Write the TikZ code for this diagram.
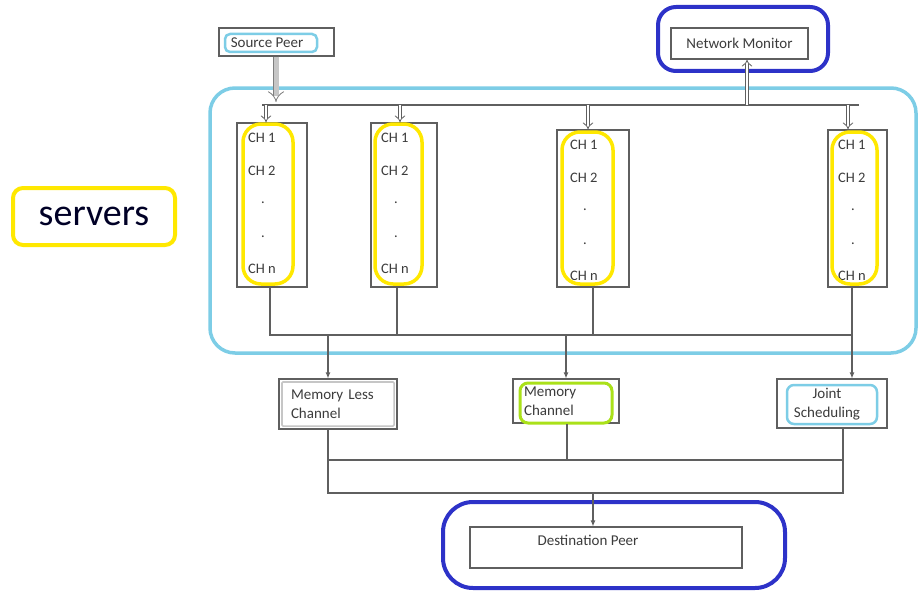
\documentclass[tikz,border=0pt]{standalone}
\usepackage{fontspec}
\setmainfont{Carlito}
\usetikzlibrary{arrows.meta,calc}
\definecolor{hlcyan}{RGB}{125,205,230}
\definecolor{hlblue}{RGB}{45,50,200}
\definecolor{hlyellow}{RGB}{255,232,0}
\definecolor{hlgreen}{RGB}{170,225,25}
\definecolor{linegray}{RGB}{95,95,95}
\definecolor{txtgray}{RGB}{60,60,60}
\begin{document}
\begin{tikzpicture}[x=1pt,y=-1pt,
  box/.style={draw=linegray, line width=1.1pt, fill=white, inner sep=0pt, text=txtgray, font=\fontsize{15}{19}\selectfont},
  plaintext/.style={inner sep=0pt, text=txtgray, font=\fontsize{15}{19}\selectfont},
  chlabel/.style={inner sep=0pt, text=txtgray, font=\fontsize{14.5}{16}\selectfont},
  conn/.style={draw=linegray, line width=1.1pt},
  arr/.style={conn, -{Latex[length=6pt,width=5pt]}},
  dbl/.style={draw=linegray, line width=0.8pt, double=white, double distance=2.8pt, -{Implies[length=5pt]}},
  srcarrow/.style={draw=linegray!80, line width=0.8pt, double=gray!45, double distance=5pt, -{Implies[length=5pt]}},
  hl/.style={line width=3.5pt, rounded corners=#1}
]
\useasboundingbox (0,0) rectangle (918,594);

% big cyan frame
\draw[hl=25, draw=hlcyan] (210,88) rectangle (916,353);

% top boxes
\node[box, minimum width=115pt, minimum height=28pt] (sp) at (276.5,42) {};
\node[plaintext] (sptext) at (267,43) {Source Peer};
\draw[hl=5, line width=2.5pt, draw=hlcyan] (225,34) rectangle (317,52);

\node[box, minimum width=137pt, minimum height=31pt] (nm) at (739.5,43.5) {Network Monitor};
\draw[hl=18, line width=4pt, draw=hlblue] (658,7) rectangle (828,71);

% servers
\node[box, minimum width=70pt, minimum height=164pt] (s1) at (272,205) {};
\node[box, minimum width=66pt, minimum height=164pt] (s2) at (404,205) {};
\node[box, minimum width=72pt, minimum height=157pt] (s3) at (593,208.5) {};
\node[box, minimum width=59pt, minimum height=157pt] (s4) at (857.5,208.5) {};

\foreach \n/\x/\d in {1/248/0, 2/381/0, 3/570/7, 4/838/7}{
  \node[chlabel, anchor=west] (s\n a) at (\x,138+\d) {CH 1};
  \node[chlabel, anchor=west] (s\n b) at (\x,171+\d) {CH 2};
  \node[chlabel] (s\n c) at (\x+15,203+\d) {.};
  \node[chlabel] (s\n d) at (\x+15,237+\d) {.};
  \node[chlabel, anchor=west] (s\n e) at (\x,269+\d) {CH n};
}
\draw[hl=18, draw=hlyellow] (243,124) rectangle (293,284);
\draw[hl=18, draw=hlyellow] (375,124) rectangle (422,284);
\draw[hl=18, draw=hlyellow] (562,132) rectangle (613,284);
\draw[hl=18, draw=hlyellow] (832,132) rectangle (877,284);

% top bus
\coordinate (bl) at (262,105);
\coordinate (br) at (859,105);
\coordinate (ts) at (276,105);
\coordinate (t1) at (266,105);
\coordinate (t2) at (400,105);
\coordinate (t3) at (588,105);
\coordinate (t4) at (848,105);
\coordinate (tn) at (747,105);
\draw[conn] (bl) -- (br);
\draw[srcarrow, shorten >=3pt] (sp.south -| ts) -- (ts);
\draw[dbl] (t1) -- (t1 |- s1.north);
\draw[dbl] (t2) -- (t2 |- s2.north);
\draw[dbl] (t3) -- (t3 |- s3.north);
\draw[dbl] (t4) -- (t4 |- s4.north);
\draw[dbl] (tn) -- (tn |- nm.south);

% bottom bus of servers
\coordinate (bb1) at (270,335);
\coordinate (bb2) at (397,335);
\coordinate (bb3) at (593,335);
\coordinate (bb4) at (852,335);
\coordinate (d1) at (328,335);
\coordinate (d2) at (566,335);
\draw[conn] (bb1 |- s1.south) -- (bb1) -- (bb4);
\draw[conn] (bb2 |- s2.south) -- (bb2);
\draw[conn] (bb3 |- s3.south) -- (bb3);
\draw[conn] (bb4 |- s4.south) -- (bb4);

% lower boxes
\node[box, minimum width=118pt, minimum height=50pt, text width=94pt, inner xsep=12pt, align=left] (ml) at (338,404) {Memory Less\\Channel};
\draw[gray!45, line width=1.6pt, rounded corners=1pt] ($(ml.north west)+(3.5,3.5)$) rectangle ($(ml.south east)+(-3.5,-3.5)$);
\node[box, minimum width=106pt, minimum height=44pt, text width=84pt, inner xsep=11pt, align=left] (mc) at (566,401) {Memory\\Channel};
\draw[hl=8, line width=3pt, draw=hlgreen] (520,383) rectangle (612,423);
\node[box, minimum width=110pt, minimum height=49pt] (js) at (832,403.5) {};
\node[plaintext, align=center] (jstext) at (827,404) {Joint\\Scheduling};
\draw[hl=7, line width=2.5pt, draw=hlcyan] (787,385) rectangle (877,424);

\draw[arr] (d1) -- (d1 |- ml.north);
\draw[arr] (d2) -- (d2 |- mc.north);
\draw[arr] (bb4) -- (bb4 |- js.north);

% bottom connectors
\coordinate (e1) at (328,460);
\coordinate (e2) at (567,460);
\coordinate (e3) at (843,460);
\coordinate (f1) at (328,493);
\coordinate (f2) at (593,493);
\coordinate (f3) at (843,493);
\draw[conn] (e1 |- ml.south) -- (f1) -- (f3) -- (e3 |- js.south);
\draw[conn] (e1) -- (e3);
\draw[conn] (e2 |- mc.south) -- (e2);

% destination
\node[box, minimum width=272pt, minimum height=41pt] (dest) at (606,547.5) {};
\node[plaintext] (desttext) at (588,540) {Destination Peer};
\draw[hl=30, line width=4pt, draw=hlblue] (443,502) rectangle (785,588);
\draw[arr] (f2) -- (f2 |- dest.north);

% servers label
\node[draw=hlyellow, line width=4pt, rounded corners=10pt, minimum width=162pt, minimum height=57pt, text=black!85!blue, font=\fontsize{38}{44}\selectfont] (srv) at (94,216.5) {servers};
\end{tikzpicture}
\end{document}
